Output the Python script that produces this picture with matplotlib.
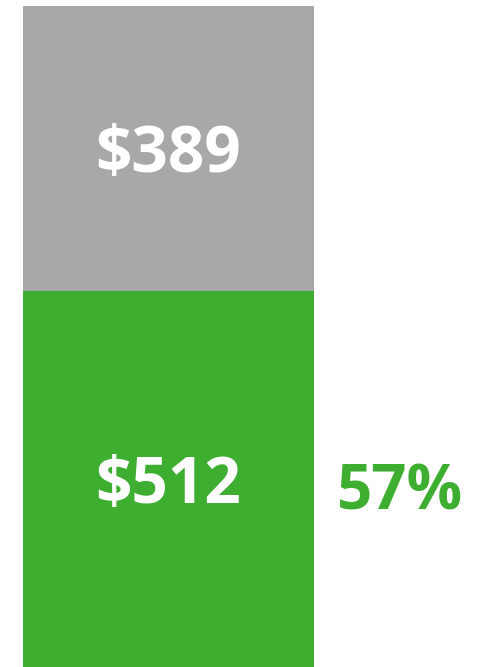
import matplotlib.pyplot as plt
from matplotlib.transforms import offset_copy

plt.rcParams['font.family'] = ['Open Sans', 'DejaVu Sans']

# segments, bottom to top
labels = ['$512', '$389']
values = [512, 389]
colors = ['#3DAE2F', '#A8A8A8']
share_label = '57%'

fig = plt.figure(figsize=(4.79, 6.67), dpi=100)
ax = fig.add_axes([23 / 479, 0, 291 / 479, 661 / 667])

# nudge labels a little lower than the geometric centre
down = offset_copy(ax.transData, fig=fig, x=0, y=-7, units='dots')

bottom = 0
for lab, val, col in zip(labels, values, colors):
    ax.bar(0, val, bottom=bottom, width=1, color=col)
    ax.text(0, bottom + val / 2, lab, ha='center', va='center',
            color='white', fontsize=46, fontweight='bold', transform=down)
    bottom += val

ax.set_xlim(-0.5, 0.5)
ax.set_ylim(0, bottom)
ax.axis('off')

# percentage to the right of the green segment
pct = offset_copy(ax.transData, fig=fig, x=0, y=-14, units='dots')
ax.text(0.5 + 86 / 291, values[0] / 2, share_label, ha='center', va='center',
        color=colors[0], fontsize=44.5, fontweight='bold', transform=pct)

fig.savefig('out.png', dpi=100)
